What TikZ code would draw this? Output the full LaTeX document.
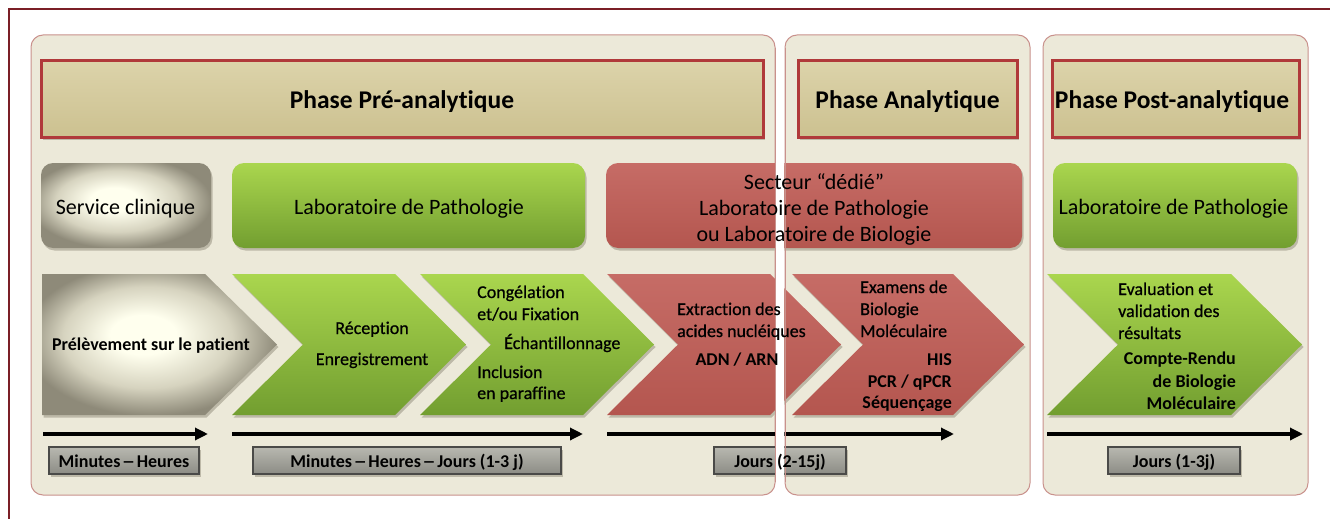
\documentclass[tikz,border=0pt]{standalone}
\usepackage{fontspec}
\setmainfont{Carlito}[RawFeature={-liga}]
\newfontfamily\mymedfont{Carlito}[RawFeature={-liga}, FakeBold=0.6]
\usetikzlibrary{arrows.meta}
\definecolor{framecol}{HTML}{7B1F26}
\definecolor{panelfill}{HTML}{ECE9D9}
\definecolor{panelborder}{HTML}{C9918C}
\definecolor{shadowcol}{HTML}{BDB9A8}
\definecolor{hdrtop}{HTML}{DCD3AA}
\definecolor{hdrbot}{HTML}{CCC190}
\definecolor{hdrborder}{HTML}{B0393A}
\definecolor{greentop}{HTML}{AAD64E}
\definecolor{greenbot}{HTML}{729E30}
\definecolor{redtop}{HTML}{C66C66}
\definecolor{redbot}{HTML}{B4564F}
\definecolor{grayin}{HTML}{FFFFEE}
\definecolor{graymid}{HTML}{D6D3BF}
\definecolor{grayout}{HTML}{8E8A79}
\definecolor{tboxtop}{HTML}{B8B8B0}
\definecolor{tboxbot}{HTML}{8C8C85}
\definecolor{tboxborder}{HTML}{4A4A48}
\pgfdeclareradialshading{mygrayshade}{\pgfpoint{-4bp}{4bp}}{%
  color(0bp)=(grayin); color(7bp)=(grayin); color(18bp)=(graymid);
  color(27bp)=(grayout); color(50bp)=(grayout)}
\newcommand\myfhdr{\fontsize{25.5}{30}\selectfont\bfseries}
\newcommand\myfbox{\fontsize{22}{26.5}\selectfont}
\newcommand\myfchev{\fontsize{18}{22}\selectfont\mymedfont}
\newcommand\myfchevb{\fontsize{18}{22}\selectfont\bfseries}
\newcommand\mydash{\hspace{0.08em}\scalebox{1.5}[1]{–}\hspace{0.08em}}
\begin{document}
\begin{tikzpicture}[x=1pt,y=-1pt,
  shadowed/.style={preaction={fill=shadowcol, transform canvas={shift={(1.5pt,-2.5pt)}}}},
  panel/.style={fill=panelfill, draw=panelborder, line width=1pt, rounded corners=12pt},
  header/.style={shadowed, top color=hdrtop, bottom color=hdrbot, draw=hdrborder, line width=3pt},
  greenbox/.style={shadowed, top color=greentop, bottom color=greenbot, rounded corners=12pt},
  redbox/.style={shadowed, top color=redtop, bottom color=redbot, rounded corners=12pt},
  graybox/.style={shadowed, shading=mygrayshade, rounded corners=12pt},
  greenchev/.style={shadowed, top color=greentop, bottom color=greenbot},
  redchev/.style={shadowed, top color=redtop, bottom color=redbot},
  graychev/.style={shadowed, shading=mygrayshade},
  timearrow/.style={line width=3.2pt, -{Triangle[length=13pt,width=12pt]}},
  timebox/.style={shadowed, top color=tboxtop, bottom color=tboxbot, draw=tboxborder, line width=1.2pt},
  gapline/.style={draw=panelborder, line width=1pt},
  txt/.style={inner sep=0pt, text=black},
  hdr/.style={txt, font=\myfhdr, anchor=base},
  boxt/.style={txt, font=\myfbox},
  chev/.style={txt, font=\myfchev},
  chevb/.style={txt, font=\myfchevb},
]
\useasboundingbox (0,0) rectangle (1330,519);
\fill[white] (0,0) rectangle (1330,519);
% outer frame
\draw[framecol, line width=2.5pt] (9,519) -- (9,9) -- (1330,9);
% panels
\draw[panel] (31,35) rectangle (775,495);
\draw[panel] (785,35) rectangle (1030,495);
\draw[panel] (1043,35) rectangle (1308,495);
% headers
\path[header] (41,61) rectangle (763,137);
\path[header] (798,61) rectangle (1017,137);
\path[header] (1052,61) rectangle (1299,137);
\begin{scope}
% content leaves the white gap between panel 1 and panel 2 open
\clip (0,0) rectangle (775.6,519) (784.4,0) rectangle (1330,519);
% row 2 boxes
\path[graybox] (41,163) rectangle (211,248);
\path[greenbox] (232,163) rectangle (585,248);
\path[redbox] (606,163) rectangle (1022,248);
\path[greenbox] (1053,163) rectangle (1297,248);
% chevrons
\path[graychev] (42,274) -- (205,274) -- (277,344.5) -- (205,415) -- (42,415) -- cycle;
\newcommand\mychevron[3]{%
  \path[#3] (#1,274) -- (#2,274) -- ({#2+71},344.5) -- (#2,415) -- (#1,415) -- ({#1+71},344.5) -- cycle;}
\mychevron{232}{395}{greenchev}
\mychevron{420}{583}{greenchev}
\mychevron{607}{770}{redchev}
\mychevron{792}{953}{redchev}
\mychevron{1047}{1231}{greenchev}
% time arrows
\coordinate (a1s) at (43,434);   \coordinate (a1e) at (208,434);
\coordinate (a2s) at (232,434);  \coordinate (a2e) at (583,434);
\coordinate (a3s) at (607,434);  \coordinate (a3e) at (954,434);
\coordinate (a4s) at (1047,434); \coordinate (a4e) at (1303,434);
\draw[timearrow] (a1s) -- (a1e);
\draw[timearrow] (a2s) -- (a2e);
\draw[timearrow] (a3s) -- (a3e);
\draw[timearrow] (a4s) -- (a4e);
% time boxes
\path[timebox] (49,447) rectangle (199,474);
\path[timebox] (253,447) rectangle (561,474);
\path[timebox] (714,447) rectangle (846,474);
\path[timebox] (1108,447) rectangle (1240,474);
\end{scope}
\coordinate (g1t) at (775,48); \coordinate (g1b) at (775,482);
\coordinate (g2t) at (785,48); \coordinate (g2b) at (785,482);
\draw[gapline] (g1t) -- (g1b);
\draw[gapline] (g2t) -- (g2b);
% header texts
\node[hdr] (h1) at (402,108) {Phase Pré-analytique};
\node[hdr] (h2) at (907.5,108) {Phase Analytique};
\node[hdr] (h3) at (1172,108) {Phase Post-analytique};
% row 2 texts
\node[boxt, anchor=base] (b1) at (125.5,214) {Service clinique};
\node[boxt, anchor=base] (b2) at (409,214) {Laboratoire de Pathologie};
\node[boxt, anchor=base] (b3a) at (814,189) {Secteur “dédié”};
\node[boxt, anchor=base] (b3b) at (814,215) {Laboratoire de Pathologie};
\node[boxt, anchor=base] (b3c) at (814,241) {ou Laboratoire de Biologie};
\node[boxt, anchor=base] (b4) at (1173.5,214) {Laboratoire de Pathologie};
% chevron 1
\node[chevb, anchor=base] (c1) at (151,350) {Prélèvement sur le patient};
% chevron 2
\node[chev, anchor=base] (c2a) at (372,334) {Réception};
\node[chev, anchor=base] (c2b) at (372,365) {Enregistrement};
% chevron 3
\node[chev, anchor=base west] (c3a) at (477,298) {Congélation};
\node[chev, anchor=base west] (c3b) at (477,320) {et/ou Fixation};
\node[chev, anchor=base west] (c3c) at (504,349) {Échantillonnage};
\node[chev, anchor=base west] (c3d) at (477,378) {Inclusion};
\node[chev, anchor=base west] (c3e) at (477,399) {en paraffine};
% chevron 4
\node[chev, anchor=base west] (c4a) at (677,315) {Extraction des};
\node[chev, anchor=base west] (c4b) at (677,337) {acides nucléiques};
\node[chevb, anchor=base] (c4c) at (737,365) {ADN / ARN};
% chevron 5
\node[chev, anchor=base west] (c5a) at (860,293) {Examens de};
\node[chev, anchor=base west] (c5b) at (860,315) {Biologie};
\node[chev, anchor=base west] (c5c) at (860,337) {Moléculaire};
\node[chevb, anchor=base east] (c5d) at (952,365) {HIS};
\node[chevb, anchor=base east] (c5e) at (952,387) {PCR / qPCR};
\node[chevb, anchor=base east] (c5f) at (952,408) {Séquençage};
% chevron 6
\node[chev, anchor=base west] (c6a) at (1118,295) {Evaluation et};
\node[chev, anchor=base west] (c6b) at (1118,317) {validation des};
\node[chev, anchor=base west] (c6c) at (1118,339) {résultats};
\node[chevb, anchor=base east] (c6d) at (1236,364) {Compte-Rendu};
\node[chevb, anchor=base east] (c6e) at (1236,387) {de Biologie};
\node[chevb, anchor=base east] (c6f) at (1236,409) {Moléculaire};
% time labels
\node[chevb, anchor=base] (t1) at (124,467) {Minutes\mydash Heures};
\node[chevb, anchor=base] (t2) at (407,467) {Minutes\mydash Heures\mydash Jours (1-3 j)};
\node[chevb, anchor=base] (t3) at (780,467) {Jours (2-15j)};
\node[chevb, anchor=base] (t4) at (1174,467) {Jours (1-3j)};
\end{tikzpicture}
\end{document}
